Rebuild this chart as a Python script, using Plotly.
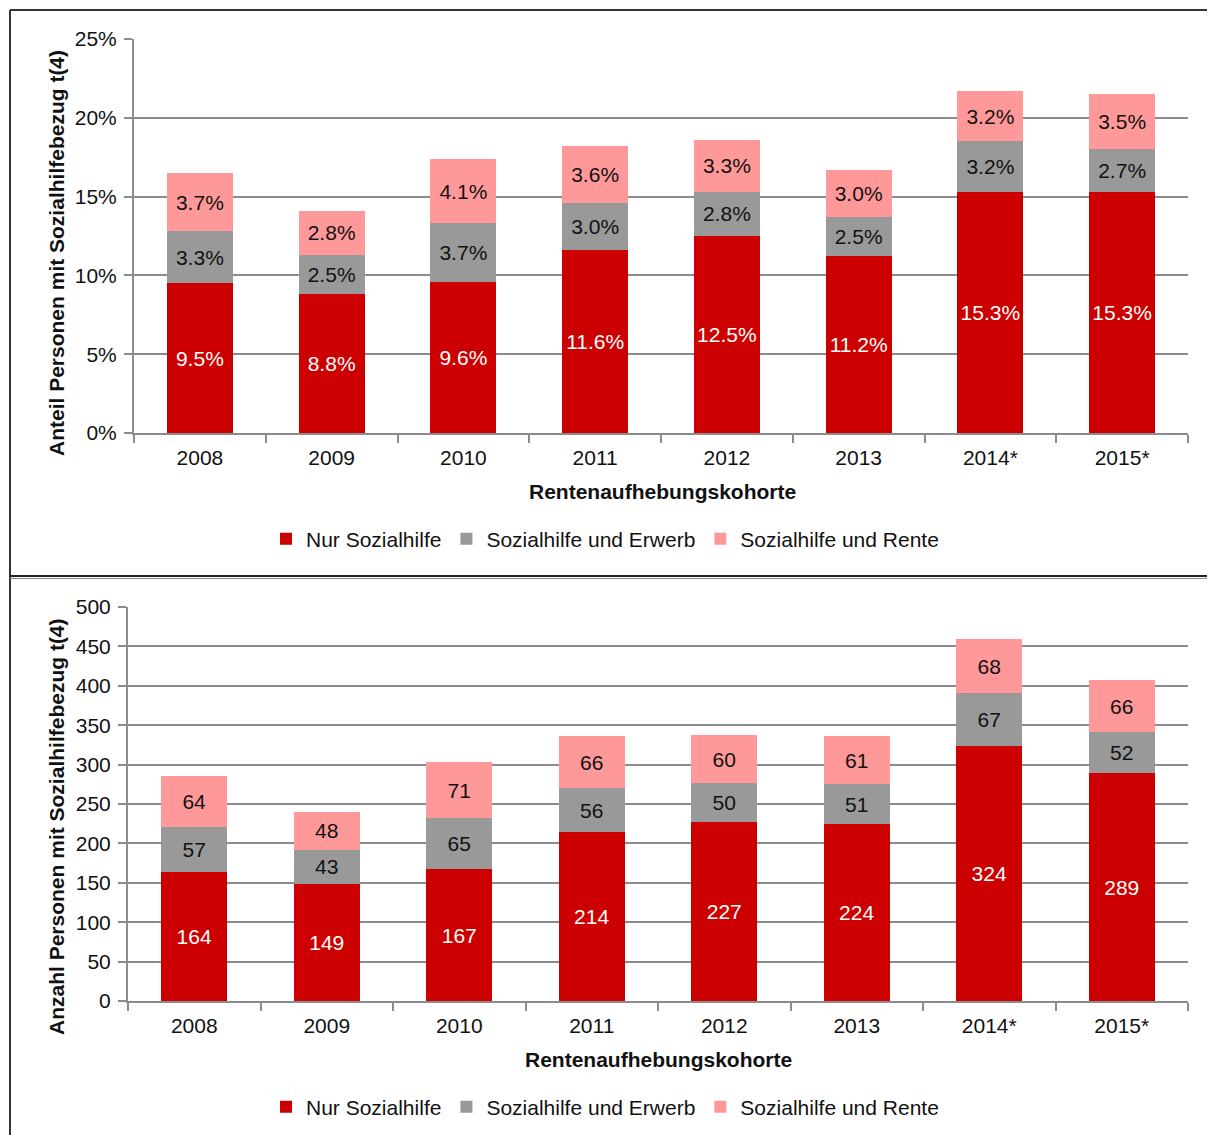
import plotly.graph_objects as go

categories = ["2008", "2009", "2010", "2011", "2012", "2013", "2014*", "2015*"]

# Top panel: share of persons (%)
share_nur = [9.5, 8.8, 9.6, 11.6, 12.5, 11.2, 15.3, 15.3]
share_erwerb = [3.3, 2.5, 3.7, 3.0, 2.8, 2.5, 3.2, 2.7]
share_rente = [3.7, 2.8, 4.1, 3.6, 3.3, 3.0, 3.2, 3.5]

# Bottom panel: number of persons
count_nur = [164, 149, 167, 214, 227, 224, 324, 289]
count_erwerb = [57, 43, 65, 56, 50, 51, 67, 52]
count_rente = [64, 48, 71, 66, 60, 61, 68, 66]

series_names = ["Nur Sozialhilfe", "Sozialhilfe und Erwerb", "Sozialhilfe und Rente"]
colors = ["#CC0000", "#999999", "#FF9999"]
text_colors = ["#FFFFFF", "#111111", "#111111"]

FONT = "Liberation Sans, Arial, sans-serif"
FS = 21
W, H = 1215, 1135
OFF = 8  # page body margin compensation


def px_x(p):
    return (p - OFF) / W


def px_y(p):
    return 1 - (p - OFF) / H


fig = go.Figure()

for vals, name, col, tcol in zip([share_nur, share_erwerb, share_rente], series_names, colors, text_colors):
    fig.add_trace(go.Bar(
        x=categories, y=vals, name=name, marker=dict(color=col, line=dict(width=0)),
        text=[f"{v:.1f}%" for v in vals], textposition="inside", insidetextanchor="middle",
        textfont=dict(color=tcol, size=FS, family=FONT), constraintext="none",
        xaxis="x", yaxis="y", legend="legend", hoverinfo="skip",
    ))

for vals, name, col, tcol in zip([count_nur, count_erwerb, count_rente], series_names, colors, text_colors):
    fig.add_trace(go.Bar(
        x=categories, y=vals, name=name, marker=dict(color=col, line=dict(width=0)),
        text=[f"{v}" for v in vals], textposition="inside", insidetextanchor="middle",
        textfont=dict(color=tcol, size=FS, family=FONT), constraintext="none",
        xaxis="x2", yaxis="y2", legend="legend2", hoverinfo="skip",
    ))

grid_col = "#8C8C8C"

xcommon = dict(type="category", showgrid=False, showline=True, linecolor=grid_col, linewidth=2,
               ticks="outside", ticklen=8, tickwidth=2, tickcolor=grid_col, tickson="boundaries",
               ticklabelstandoff=5, automargin=False,
               tickfont=dict(size=FS, family=FONT, color="#111111"), zeroline=False, fixedrange=True)
ycommon = dict(showgrid=True, gridcolor=grid_col, gridwidth=2, showline=True, linecolor=grid_col, linewidth=2,
               ticks="outside", ticklen=8, tickwidth=2, tickcolor=grid_col, ticklabelstandoff=3,
               automargin=False,
               tickfont=dict(size=FS, family=FONT, color="#111111"), zeroline=False, fixedrange=True)

legend_common = dict(orientation="h", xanchor="left", yanchor="middle",
                     font=dict(size=FS, family=FONT, color="#111111"), itemwidth=30,
                     bgcolor="rgba(0,0,0,0)", traceorder="normal")

fig.update_layout(
    width=W, height=H, margin=dict(l=0, r=0, t=0, b=0, autoexpand=False),
    paper_bgcolor="white", plot_bgcolor="white",
    barmode="stack", bargap=0.5,
    font=dict(family=FONT, size=FS, color="#111111"),
    xaxis=dict(domain=[px_x(134), px_x(1188)], anchor="y", **xcommon),
    yaxis=dict(domain=[px_y(433), px_y(39)], anchor="x", range=[0, 25], dtick=5, ticksuffix="%", **ycommon),
    xaxis2=dict(domain=[px_x(128), px_x(1188)], anchor="y2", **xcommon),
    yaxis2=dict(domain=[px_y(1001), px_y(607)], anchor="x2", range=[0, 500], dtick=50, **ycommon),
    legend=dict(x=px_x(266), y=px_y(539), **legend_common),
    legend2=dict(x=px_x(266), y=px_y(1107), **legend_common),
    showlegend=True,
)

annotations = [
    dict(text="<b>Rentenaufhebungskohorte</b>", x=px_x(662), y=px_y(491), xref="paper", yref="paper",
         showarrow=False, font=dict(size=FS, family=FONT, color="#111111"), xanchor="center", yanchor="middle"),
    dict(text="<b>Rentenaufhebungskohorte</b>", x=px_x(658), y=px_y(1059), xref="paper", yref="paper",
         showarrow=False, font=dict(size=FS, family=FONT, color="#111111"), xanchor="center", yanchor="middle"),
    dict(text="<b>Anteil Personen mit Sozialhilfebezug t(4)</b>", x=px_x(56), y=px_y(253), xref="paper", yref="paper",
         showarrow=False, textangle=-90, font=dict(size=FS, family=FONT, color="#111111"), xanchor="center", yanchor="middle"),
    dict(text="<b>Anzahl Personen mit Sozialhilfebezug t(4)</b>", x=px_x(56), y=px_y(827), xref="paper", yref="paper",
         showarrow=False, textangle=-90, font=dict(size=FS, family=FONT, color="#111111"), xanchor="center", yanchor="middle"),
]
fig.update_layout(annotations=annotations)

shapes = [
    dict(type="line", xref="paper", yref="paper", x0=px_x(10), x1=1, y0=px_y(10), y1=px_y(10), line=dict(color="#333333", width=2)),
    dict(type="line", xref="paper", yref="paper", x0=px_x(10), x1=px_x(10), y0=0, y1=px_y(10), line=dict(color="#333333", width=2)),
    dict(type="line", xref="paper", yref="paper", x0=px_x(10), x1=1, y0=px_y(576), y1=px_y(576), line=dict(color="#222222", width=2)),
    dict(type="line", xref="paper", yref="paper", x0=px_x(10), x1=1, y0=px_y(578.5), y1=px_y(578.5), line=dict(color="#888888", width=1)),
]
fig.update_layout(shapes=shapes)

fig.write_html("out.html")
